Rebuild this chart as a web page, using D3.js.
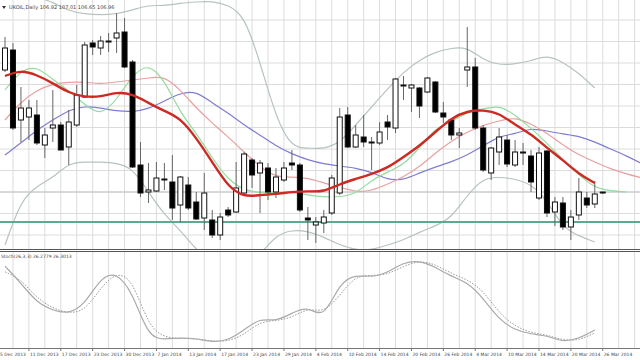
<!DOCTYPE html>
<html><head><meta charset="utf-8">
<script src="https://cdn.jsdelivr.net/npm/d3@7"></script>
<style>body{margin:0;background:#fff}svg{display:block}</style>
</head><body>
<script>
// ---------- DATA ----------
const title = "UKOIL,Daily  106.92 107.01 106.65 106.96";
const stochLabel = "Stoch(26,3,3) 26.2779 26.3013";
// candles: open, high, low, close (bar index = position)
const opens  = [110.20,111.00,108.20,108.32,108.40,107.20,107.88,108.00,107.12,108.00,109.12,111.28,111.08,111.32,111.48,111.72,110.52,106.40,105.32,105.36,105.84,105.72,104.80,105.60,104.92,104.28,104.20,103.60,104.60,104.52,105.28,106.60,106.08,106.28,105.32,105.80,106.48,106.40,104.28,104.00,104.08,104.48,105.28,108.40,107.12,107.52,107.32,107.28,108.12,107.88,109.60,109.48,109.48,109.32,109.72,108.48,108.20,107.60,110.20,110.32,107.88,106.08,106.92,107.40,106.40,106.92,106.76,105.08,106.96,104.52,104.88,103.92,104.40,105.08,104.84,105.28];
const highs  = [111.52,111.28,109.52,109.00,109.00,107.88,109.40,108.12,108.60,109.60,111.32,111.40,111.56,111.68,112.48,112.28,110.60,107.32,106.48,106.52,106.48,106.80,105.96,105.92,105.32,106.08,104.60,104.48,104.72,106.52,106.92,106.68,106.60,106.48,106.28,106.52,107.00,106.48,104.72,104.32,104.60,106.00,108.68,108.72,108.00,108.40,107.52,108.12,108.40,109.88,109.96,109.64,109.52,109.92,109.76,108.92,108.28,107.88,111.92,110.68,108.00,107.12,107.88,107.60,107.40,107.28,107.00,107.12,107.00,105.12,105.12,104.60,105.88,105.32,105.76,105.32];
const lows   = [110.12,107.80,107.32,107.40,107.20,106.68,107.32,107.00,106.40,107.92,109.08,110.80,110.80,110.92,110.88,110.28,106.28,105.12,104.88,105.32,105.40,104.20,104.12,104.60,104.20,103.80,103.48,103.40,104.32,104.48,105.24,105.48,104.48,105.00,105.08,105.72,106.20,104.52,103.40,103.28,103.68,104.40,105.20,107.08,107.08,107.12,106.20,107.20,107.40,107.68,109.00,108.52,108.28,109.28,108.48,108.08,107.40,107.08,109.52,107.80,106.12,105.80,106.40,106.32,106.32,106.40,105.32,105.00,104.32,103.96,103.80,103.40,104.20,104.68,104.68,105.24];
const closes = [111.08,107.88,108.68,108.68,107.28,107.60,108.00,107.00,108.12,109.20,111.20,111.12,111.36,111.36,111.68,110.32,106.32,105.28,105.40,105.88,105.80,104.68,105.92,104.68,104.24,105.28,103.60,104.32,104.40,105.48,106.84,106.00,106.48,105.32,105.92,106.28,106.40,104.60,104.20,104.12,104.32,105.88,108.32,107.12,107.60,107.32,107.28,107.72,107.92,109.84,109.56,109.60,108.76,109.88,108.52,108.32,107.60,107.68,110.32,107.88,106.20,107.08,107.52,106.44,106.92,106.88,105.72,106.88,104.48,104.92,103.92,104.32,105.32,104.80,105.24,105.32];
// date labels every 4 bars, starting at bar -1
const dateLabels = ["5 Dec 2013","11 Dec 2013","17 Dec 2013","23 Dec 2013","30 Dec 2013","7 Jan 2014","13 Jan 2014","17 Jan 2014","23 Jan 2014","29 Jan 2014","4 Feb 2014","10 Feb 2014","14 Feb 2014","20 Feb 2014","26 Feb 2014","4 Mar 2014","10 Mar 2014","14 Mar 2014","20 Mar 2014","26 Mar 2014"];
// indicator lines sampled every 2 bars (bar 0,2,4,...)
const maThick = [109.96,110.20,110.00,109.68,109.28,109.12,109.12,109.32,109.24,108.88,108.56,108.28,107.48,106.52,105.52,105.12,105.20,105.24,105.32,105.36,105.32,105.64,105.84,106.04,106.28,106.72,107.16,107.72,108.28,108.56,108.60,108.48,108.00,107.64,107.08,106.60,106.04,105.68];
const maGreen = [109.40,110.20,110.36,109.80,109.40,108.80,108.36,109.00,110.00,110.48,109.80,108.48,107.68,106.68,105.80,105.40,105.28,105.28,105.32,105.20,105.12,105.12,105.24,105.80,106.12,106.40,107.08,107.88,108.12,108.52,108.64,108.80,108.40,107.88,107.28,106.60,106.00,105.48,105.36,105.32];
const maPink = [108.20,108.92,109.40,109.64,109.72,109.72,109.64,109.72,109.80,109.88,109.96,109.40,108.68,108.08,107.52,106.92,106.32,105.92,105.92,105.88,105.68,105.52,105.32,105.36,105.64,105.92,106.32,106.88,107.36,107.72,108.00,108.16,108.32,108.04,107.68,107.20,106.80,106.52,106.24,106.04,105.88];
const maBlue = [106.80,107.28,107.80,108.20,108.60,108.76,108.68,108.56,108.52,108.64,108.96,109.28,109.36,108.88,108.48,108.00,107.60,107.16,106.84,106.60,106.44,106.36,106.28,106.12,105.80,105.80,106.08,106.32,106.52,106.80,107.16,107.56,107.64,107.88,107.76,107.64,107.56,107.32,107.04,106.76,106.44];
const bandUpper = [113.80,113.40,113.12,112.92,112.56,112.44,112.40,112.44,112.60,112.80,112.76,112.88,112.92,112.96,112.80,112.40,110.52,108.28,107.08,107.08,107.04,107.28,108.00,108.72,109.44,110.12,110.60,110.92,111.08,111.12,110.60,110.40,110.44,110.56,110.80,110.52,110.08,109.48];
const bandLower = [103.20,105.00,105.56,105.88,106.48,106.52,106.52,106.48,106.28,105.32,104.40,103.80,103.00,102.52,102.28,102.28,102.80,103.60,103.80,103.76,103.52,103.20,103.00,103.00,103.20,103.40,103.72,103.96,104.28,105.20,105.88,105.92,105.84,105.64,105.00,103.88,103.56,103.32];
const stochMain = [86,68,47,39,35,45,74,80,58,10,8,10,9,5,7,18,31,27,36,44,29,69,77,74,79,90,92,85,75,69,52,29,18,13.5,12.5,5,9,18];
const stochSignal = [80,72,52,41,36,38,63,80,72,22,10,9,9,6,6,13,27,28,31,42,36,55,76,76,77,86,92,88,78,72,60,36,22,15,13,7,7,15];
const supportLevel = 104.12;
const gridPrices = [112.2,111.34,110.48,109.62,108.76,107.90,107.04,106.18,105.32,104.46,103.60];

// ---------- DRAW ----------
const W = 640, H = 360;
const svg = d3.select("body").append("svg").attr("width", W).attr("height", H)
  .style("font-family", "'DejaVu Sans', sans-serif");

const x = d3.scaleLinear().domain([0, 75]).range([5, 602.75]);
const y = d3.scaleLinear().domain([113, 103.04]).range([0, 249]);
const ys = d3.scaleLinear().domain([100, 0]).range([253, 347]);

const defs = svg.append("defs");
defs.append("clipPath").attr("id", "cm").append("rect").attr("x", 0).attr("y", 0).attr("width", W).attr("height", 249);
defs.append("clipPath").attr("id", "cs").append("rect").attr("x", 0).attr("y", 252).attr("width", W).attr("height", 96);

const gridColor = "#dcdcdc";
const vg = d3.range(-1, 81, 2);
svg.append("g").selectAll("line").data(vg).join("line")
  .attr("x1", d => x(d)).attr("x2", d => x(d)).attr("y1", 0).attr("y2", 348)
  .attr("stroke", gridColor).attr("stroke-width", 1);
svg.append("g").selectAll("line").data(gridPrices).join("line")
  .attr("x1", 0).attr("x2", W).attr("y1", d => y(d)).attr("y2", d => y(d))
  .attr("stroke", gridColor).attr("stroke-width", 1);

const main = svg.append("g").attr("clip-path", "url(#cm)");

const idx2 = (arr) => arr.map((v, i) => [i * 2, v]);
const line = d3.line().x(d => x(d[0])).y(d => y(d[1])).curve(d3.curveBasis);

[bandUpper, bandLower].forEach(b => main.append("path").datum(idx2(b)).attr("d", line)
  .attr("fill", "none").attr("stroke", "#b7c4bd").attr("stroke-width", 1.2));

main.append("line").attr("x1", 0).attr("x2", W).attr("y1", y(supportLevel)).attr("y2", y(supportLevel))
  .attr("stroke", "#5fa990").attr("stroke-width", 2);
main.append("line").attr("x1", 0).attr("x2", W).attr("y1", y(closes[closes.length-1])).attr("y2", y(closes[closes.length-1]))
  .attr("stroke", "#c4c4c4").attr("stroke-width", 1);

main.append("path").datum(idx2(maBlue)).attr("d", line).attr("fill", "none").attr("stroke", "#7f7dd3").attr("stroke-width", 1.2);
main.append("path").datum(idx2(maPink)).attr("d", line).attr("fill", "none").attr("stroke", "#e8a0a0").attr("stroke-width", 1.2);
main.append("path").datum(idx2(maGreen)).attr("d", line).attr("fill", "none").attr("stroke", "#94dc9e").attr("stroke-width", 1.2);

const bars = opens.map((o, i) => ({i, o, h: highs[i], l: lows[i], c: closes[i]}));
const cg = main.append("g");
cg.selectAll("line").data(bars).join("line")
  .attr("x1", d => x(d.i)).attr("x2", d => x(d.i))
  .attr("y1", d => y(d.h)).attr("y2", d => y(d.l))
  .attr("stroke", "#666").attr("stroke-width", 1);
cg.selectAll("rect").data(bars).join("rect")
  .attr("x", d => x(d.i) - 2.5).attr("width", 5)
  .attr("y", d => y(Math.max(d.o, d.c)))
  .attr("height", d => Math.max(1, Math.abs(y(d.o) - y(d.c))))
  .attr("fill", d => d.c >= d.o ? "#fff" : "#000")
  .attr("stroke", "#111").attr("stroke-width", 1);

main.append("path").datum(idx2(maThick)).attr("d", line).attr("fill", "none")
  .attr("stroke", "#cc2a22").attr("stroke-width", 2.4);

svg.append("path").attr("d", "M2,6 L6,6 L4,9 Z").attr("fill", "#333");
svg.append("text").attr("x", 9).attr("y", 9).attr("font-size", 5).attr("fill", "#444").text(title);

svg.append("rect").attr("x", 0).attr("y", 249).attr("width", W).attr("height", 3).attr("fill", "#fff");
svg.append("line").attr("x1", 0).attr("x2", W).attr("y1", 249.5).attr("y2", 249.5).attr("stroke", "#555").attr("stroke-width", 1);
svg.append("line").attr("x1", 0).attr("x2", W).attr("y1", 251.5).attr("y2", 251.5).attr("stroke", "#555").attr("stroke-width", 1);

const sub = svg.append("g").attr("clip-path", "url(#cs)");
const sline = d3.line().x(d => x(d[0])).y(d => ys(d[1])).curve(d3.curveBasis);
sub.append("path").datum(idx2(stochSignal)).attr("d", sline).attr("fill", "none")
  .attr("stroke", "#999").attr("stroke-width", 1).attr("stroke-dasharray", "1.5,1.5");
sub.append("path").datum(idx2(stochMain)).attr("d", sline).attr("fill", "none")
  .attr("stroke", "#aaa").attr("stroke-width", 1.2);
svg.append("text").attr("x", 1).attr("y", 258).attr("font-size", 4.5).attr("fill", "#444").text(stochLabel);

svg.append("line").attr("x1", 0).attr("x2", W).attr("y1", 348.5).attr("y2", 348.5).attr("stroke", "#777").attr("stroke-width", 1);
const labelBars = dateLabels.map((d, k) => ({d, b: -1 + 4 * k}));
svg.append("g").selectAll("text").data(labelBars).join("text")
  .attr("x", d => Math.max(0, x(d.b) + 1)).attr("y", 356).attr("font-size", 4.5).attr("fill", "#444").text(d => d.d);
svg.append("g").selectAll("line").data(labelBars).join("line")
  .attr("x1", d => x(d.b)).attr("x2", d => x(d.b)).attr("y1", 348).attr("y2", 351).attr("stroke", "#777");
</script>
</body></html>
